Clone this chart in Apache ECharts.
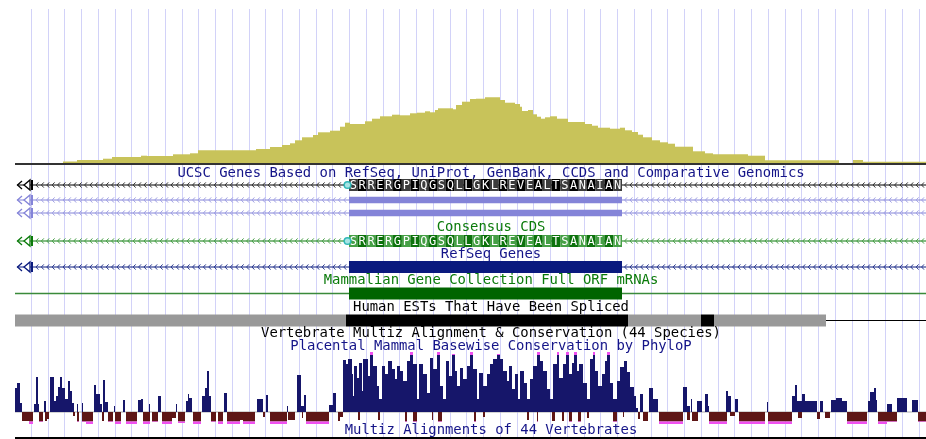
<!DOCTYPE html>
<html>
<head>
<meta charset="utf-8">
<title>Genome browser tracks</title>
<script src="https://cdn.jsdelivr.net/npm/echarts@6/dist/echarts.min.js"></script>
<style>
  html, body { margin: 0; padding: 0; background: #fff; }
  #chart { width: 926px; height: 439px; }
</style>
</head>
<body>
<div id="chart"></div>
<script>
  // window positions run 0..926 (one unit per screen column)
  var windowSpan = [15, 926];

  // coverage histogram, [from, to, height]
  var histSteps = [
    [63,77,2.5],[77,103,4],[103,112,5.3],[112,141,7],[141,147,8.3],[147,173,8],[173,190,9.7],
    [190,198,10.7],[198,256,13.7],[256,270,15],[270,282,17],[282,290,19],[290,295,20.7],
    [295,302,23.7],[302,313,26.7],[313,318,29],[318,330,31.7],[330,340,33.3],[340,345,37.3],
    [345,350,41.3],[350,365,40],[365,372,42.7],[372,380,45.3],[380,392,47.7],[392,400,49.3],
    [400,410,48.7],[410,417,50.7],[417,425,51.3],[425,430,52.7],[430,435,51.7],[435,438,54],
    [438,453,55.7],[453,456,54.7],[456,462,59],[462,470,62.3],[470,476,65],[476,485,65.3],
    [485,500,66.7],[500,505,64],[505,515,61.3],[515,520,60],[520,522,57.3],[522,528,53],
    [528,533,54],[533,537,49.7],[537,541,47.3],[541,545,45.3],[545,550,46.7],[550,557,47.7],
    [557,568,45.3],[568,585,42],[585,592,40],[592,598,38.3],[598,610,36.3],[610,620,35.3],
    [620,625,36.3],[625,632,33.7],[632,638,32],[638,643,29.3],[643,652,26.7],[652,660,23.7],
    [660,668,21.7],[668,675,20.3],[675,693,17.3],[693,705,12.7],[705,713,10.7],[713,748,9.7],
    [748,765,8.3],[765,839,3.7],[839,853,1],[853,863,4],[863,926,2.3]
  ];

  // gene model
  var txSpan = [17, 926];
  var cdsSpan = [349, 622];
  var aminoAcids = 'SRRERGPIQGSQLLGKLREVEALTSANAIAN'.split('');

  // spliced EST density, [from, to, level]  (0 = line only, 1 = few, 2 = many)
  var estCoverage = [
    [15,346,1],[346,628,2],[628,701,1],[701,714,2],[714,826,1],[826,926,0]
  ];

  // PhyloP scores, [from, to, score]
  var consPositive = [
    [15,17,24],[17,20,29],[20,22,9],[34,36,8],[36,38,35],[38,39,8],[44,46,11],
    [50,54,35],[54,56,11],[56,58,16],[58,60,25],[60,62,35],[62,65,24],[65,68,13],[68,70,31],
    [70,72,21],[72,74,9],[77,78,8],[82,83,9],[94,96,27],[96,100,18],[100,102,8],[103,105,32],
    [105,108,10],[114,115,6],[123,125,12],[138,141,12],[141,143,13],[149,150,8],[158,161,16],
    [176,177,8],[186,188,11],[188,189,18],[189,192,14],[202,205,16],[205,207,24],[207,209,41],
    [209,211,16],[224,227,19],[257,263,13],[266,268,17],[287,288,6],[297,301,37],[301,304,6],
    [304,306,17],
    [329,333,7],[333,336,19],[343,346,52],[346,348,48],[348,352,53],[352,353,38],[353,354,16],
    [354,357,46],[357,359,34],[359,362,49],[362,363,21],[363,368,53],[368,370,36],[370,373,60],
    [373,377,46],[377,379,26],[379,382,13],[382,385,46],[385,388,38],[388,392,51],[392,395,43],
    [395,397,33],[397,400,46],[400,403,41],[403,407,31],[407,410,51],[410,413,60],[413,417,48],
    [417,419,13],[419,423,48],[423,427,38],[427,430,19],[430,433,54],[433,437,43],[437,440,60],
    [440,443,26],[443,446,13],[446,449,51],[449,452,36],[452,455,58],[455,457,41],[457,460,26],
    [460,463,44],[463,467,33],[467,470,46],[470,473,60],[473,477,43],[477,479,13],[479,483,39],
    [483,487,26],[487,490,38],[490,493,48],[493,497,53],[497,500,58],[500,503,53],[503,507,41],
    [507,509,31],[509,512,46],[512,515,23],[515,518,38],[518,520,13],[520,524,41],[524,527,29],
    [527,530,13],[530,533,33],[533,537,46],[537,540,60],[540,543,51],[543,547,41],[547,550,23],
    [550,553,13],[553,557,48],[557,559,60],[559,563,34],[563,566,48],[566,569,60],[569,572,38],
    [572,574,49],[574,577,60],[577,579,41],[579,583,48],[583,587,29],[587,590,13],[590,593,53],
    [593,595,60],[595,598,41],[598,602,26],[602,605,38],[605,607,51],[607,610,60],[610,613,29],
    [613,617,13],[617,620,31],
    [620,624,45],[624,627,51],[627,630,40],[630,634,25],[634,636,16],[636,638,4],[640,643,18],
    [649,653,24],[653,658,13],[683,687,25],[687,690,6],[691,692,13],[697,702,11],[705,708,18],
    [708,709,6],[726,728,21],[728,731,16],[735,738,13],[767,768,10],[792,795,16],[795,797,27],
    [797,802,11],[802,805,18],[805,817,11],[820,823,11],[831,836,12],[836,842,14],[842,847,11],
    [868,870,11],[870,874,20],[874,876,24],[876,877,12],[887,892,8],[897,907,14],[912,918,12]
  ];
  var consNegative = [
    [22,29,-9],[29,33,-12],[39,43,-10],[45,47,-9],[47,49,-7],[73,75,-4],[77,79,-10],[82,86,-10],
    [86,93,-12],[102,104,-9],[108,113,-10],[115,121,-12],[126,137,-12],[143,150,-12],[152,158,-10],
    [162,172,-12],[172,176,-6],[178,185,-11],[193,201,-12],[211,216,-10],[218,223,-12],
    [227,240,-12],[240,243,-8],[243,255,-12],[263,265,-5],[270,287,-12],[288,295,-8],[302,303,-6],
    [306,329,-12],[338,340,-9],[340,343,-5],[358,360,-8],[378,380,-8],[405,407,-10],[413,417,-10],
    [432,433,-8],[438,442,-10],[474,476,-10],[483,485,-5],[527,529,-8],[537,538,-10],[552,555,-9],
    [562,564,-9],[569,572,-10],[578,581,-10],[587,589,-6],[613,617,-10],[623,624,-5],[638,640,-7],
    [643,648,-9],[659,683,-12],[687,690,-8],[692,698,-9],[709,727,-12],[730,735,-4],[739,765,-12],
    [768,792,-12],[798,802,-6],[817,820,-7],[825,830,-6],[847,867,-12],[878,887,-12],[887,897,-10],
    [918,926,-10]
  ];

  var trackTitles = [
    'UCSC Genes Based on RefSeq, UniProt, GenBank, CCDS and Comparative Genomics',
    'Consensus CDS',
    'RefSeq Genes',
    'Mammalian Gene Collection Full ORF mRNAs',
    'Human ESTs That Have Been Spliced',
    'Vertebrate Multiz Alignment & Conservation (44 Species)',
    'Placental Mammal Basewise Conservation by PhyloP',
    'Multiz Alignments of 44 Vertebrates'
  ];

  // layout (screen rows)
  var titleLayout = [
    { y: 173, color: '#141488' },
    { y: 227.5, color: '#0a7a0a' },
    { y: 254, color: '#141488' },
    { y: 280.5, color: '#0a7a0a' },
    { y: 307, color: '#000000' },
    { y: 333.5, color: '#000000' },
    { y: 346.5, color: '#141488' },
    { y: 430.5, color: '#141488' }
  ];
  var geneRows = [
    { y: 185, line: '#000000', chev: '#333333', kind: 'aa', cells: ['#3c3c3c', '#000000'] },
    { y: 200, line: '#8484d8', chev: '#a0a0e4', kind: 'thin', fill: '#8484d8' },
    { y: 213, line: '#8484d8', chev: '#a0a0e4', kind: 'thin', fill: '#8484d8' },
    { y: 241, line: '#0a7a0a', chev: '#48a048', kind: 'aa', cells: ['#46a046', '#0c720c'] },
    { y: 267, line: '#0a1a7e', chev: '#2a3a90', kind: 'box', fill: '#0a1a7e' },
    { y: 293.5, line: '#3a8a3a', kind: 'mgc', fill: '#006400' }
  ];
  var estRowY = 320.5;
  var font = '13.9px "DejaVu Sans Mono"';

  var chart = echarts.init(document.getElementById('chart'), null, { renderer: 'canvas' });

  function hidden(grid, min, max, inverse) {
    return { gridIndex: grid, type: 'value', min: min, max: max, inverse: !!inverse, show: false };
  }

  function rectBetween(api, x0, y0, x1, y1, color) {
    var a = api.coord([x0, y0]);
    var b = api.coord([x1, y1]);
    return {
      type: 'rect',
      shape: { x: Math.min(a[0], b[0]), y: Math.min(a[1], b[1]), width: Math.abs(b[0] - a[0]), height: Math.abs(b[1] - a[1]) },
      style: { fill: color }
    };
  }

  function renderGene(params, api) {
    var row = geneRows[params.dataIndex];
    var y = row.y;
    var kids = [];
    var lineFrom = row.kind === 'mgc' ? windowSpan[0] : txSpan[0];
    var p0 = api.coord([lineFrom, y]), p1 = api.coord([txSpan[1], y]);
    kids.push({ type: 'line', shape: { x1: p0[0], y1: p0[1], x2: p1[0], y2: p1[1] },
      style: { stroke: row.line, lineWidth: row.kind === 'mgc' ? 1.5 : 1 } });

    if (row.kind !== 'mgc') {
      // strand chevrons along the intron
      for (var x = 36; x < txSpan[1]; x += 5.4) {
        if (x > cdsSpan[0] - 3 && x < cdsSpan[1] + 2) continue;
        var c = api.coord([x, y]);
        kids.push({ type: 'polyline', shape: { points: [[c[0] + 2.4, c[1] - 2.6], [c[0], c[1]], [c[0] + 2.4, c[1] + 2.6]] },
          style: { stroke: row.chev, lineWidth: 1, fill: null } });
      }
      // transcript end marker
      var s = api.coord([txSpan[0], y]);
      kids.push({ type: 'polyline', shape: { points: [[s[0] + 5, s[1] - 4], [s[0] + 0.5, s[1]], [s[0] + 5, s[1] + 4]] },
        style: { stroke: row.line, lineWidth: 1.3, fill: null } });
      kids.push({ type: 'polygon', shape: { points: [[s[0] + 7, s[1]], [s[0] + 13, s[1] - 5], [s[0] + 13, s[1] + 5]] },
        style: { stroke: row.line, lineWidth: 1.3, fill: '#fff' } });
      kids.push({ type: 'rect', shape: { x: s[0] + 14, y: s[1] - 5, width: 2, height: 10 }, style: { fill: row.line } });
    }

    if (row.kind === 'thin') {
      kids.push(rectBetween(api, cdsSpan[0], y - 3.3, cdsSpan[1], y + 3.3, row.fill));
    } else if (row.kind === 'box' || row.kind === 'mgc') {
      kids.push(rectBetween(api, cdsSpan[0], y - 6, cdsSpan[1], y + 6, row.fill));
    } else if (row.kind === 'aa') {
      var w = (cdsSpan[1] - cdsSpan[0]) / aminoAcids.length;
      for (var i = 0; i < aminoAcids.length; i++) {
        var x0 = cdsSpan[0] + i * w;
        kids.push(rectBetween(api, x0, y - 6, x0 + w, y + 6, row.cells[i % 2]));
        var t = api.coord([x0 + w / 2, y]);
        kids.push({ type: 'text', style: { text: aminoAcids[i], x: t[0], y: t[1] + 0.5, fill: '#fff',
          font: '12px "DejaVu Sans Mono"', textAlign: 'center', textVerticalAlign: 'middle', align: 'center', verticalAlign: 'middle' } });
      }
      var cc = api.coord([cdsSpan[0] - 1.5, y]);
      kids.push({ type: 'circle', shape: { cx: cc[0], cy: cc[1], r: 3.3 }, style: { stroke: '#30b8b8', lineWidth: 1.5, fill: '#a8e4e4' } });
    }
    return { type: 'group', children: kids };
  }

  function renderEst(params, api) {
    var seg = estCoverage[params.dataIndex];
    if (seg[2] === 0) {
      var a = api.coord([seg[0], estRowY]), b = api.coord([seg[1], estRowY]);
      return { type: 'line', shape: { x1: a[0], y1: a[1], x2: b[0], y2: b[1] }, style: { stroke: '#000', lineWidth: 1.2 } };
    }
    return rectBetween(api, seg[0], estRowY - 6, seg[1], estRowY + 6, seg[2] === 2 ? '#000000' : '#999999');
  }

  function renderCons(params, api) {
    var x0 = api.value(0), x1 = api.value(1), v = api.value(2);
    var kids = [];
    if (v > 0) {
      kids.push(rectBetween(api, x0, 0, x1, Math.min(v, 57), '#16166a'));
      if (v > 57) kids.push(rectBetween(api, x0, 57, x1, Math.min(v, 60), '#f050f0'));
    } else {
      kids.push(rectBetween(api, x0, 0, x1, Math.max(v, -9.5), '#5e1616'));
      if (v < -9.5) kids.push(rectBetween(api, x0, -9.5, x1, Math.max(v, -13), '#f050f0'));
    }
    return { type: 'group', children: kids };
  }

  var option = {
    animation: false,
    backgroundColor: '#ffffff',
    grid: [
      { left: 0, right: 0, top: 9, height: 155 },
      { left: 0, right: 0, top: 0, bottom: 0 },
      { left: 0, right: 0, top: 352, height: 73 },
      { left: 31, right: 7, top: 9, bottom: 0 }
    ],
    xAxis: [
      hidden(0, 0, 926), hidden(1, 0, 926), hidden(2, 0, 926),
      { gridIndex: 3, type: 'value', min: 0, max: 53, interval: 1,
        axisLine: { show: false }, axisTick: { show: false }, axisLabel: { show: false },
        splitLine: { show: true, lineStyle: { color: '#d2d2f8', width: 1 } } }
    ],
    yAxis: [
      hidden(0, 0, 155), hidden(1, 0, 439, true), hidden(2, -13, 60), hidden(3, 0, 1)
    ],
    graphic: trackTitles.map(function (t, i) {
      return { type: 'text', x: 491, y: titleLayout[i].y, z: 10,
        style: { text: t, fill: titleLayout[i].color, font: font,
          textAlign: 'center', textVerticalAlign: 'middle', align: 'center', verticalAlign: 'middle' } };
    }),
    series: [
      { type: 'custom', xAxisIndex: 0, yAxisIndex: 0, data: histSteps, silent: true,
        renderItem: function (params, api) {
          return rectBetween(api, api.value(0), api.value(2), api.value(1), 0, '#c8c35a');
        } },
      { type: 'line', xAxisIndex: 0, yAxisIndex: 0, symbol: 'none', silent: true,
        data: [[windowSpan[0], 0], [windowSpan[1], 0]], lineStyle: { color: '#333', width: 2 } },
      { type: 'custom', xAxisIndex: 1, yAxisIndex: 1, silent: true,
        data: geneRows.map(function (r, i) { return [i]; }), renderItem: renderGene },
      { type: 'custom', xAxisIndex: 1, yAxisIndex: 1, silent: true,
        data: estCoverage, renderItem: renderEst },
      { type: 'line', xAxisIndex: 2, yAxisIndex: 2, symbol: 'none', silent: true, z: 1,
        data: [[windowSpan[0], 0], [windowSpan[1], 0]], lineStyle: { color: '#a8a8a8', width: 1 } },
      { type: 'custom', xAxisIndex: 2, yAxisIndex: 2, silent: true,
        data: consPositive.concat(consNegative), renderItem: renderCons },
      { type: 'line', xAxisIndex: 1, yAxisIndex: 1, symbol: 'none', silent: true,
        data: [[windowSpan[0], 438], [windowSpan[1], 438]], lineStyle: { color: '#000', width: 2 } }
    ]
  };

  chart.setOption(option);
</script>
</body>
</html>
